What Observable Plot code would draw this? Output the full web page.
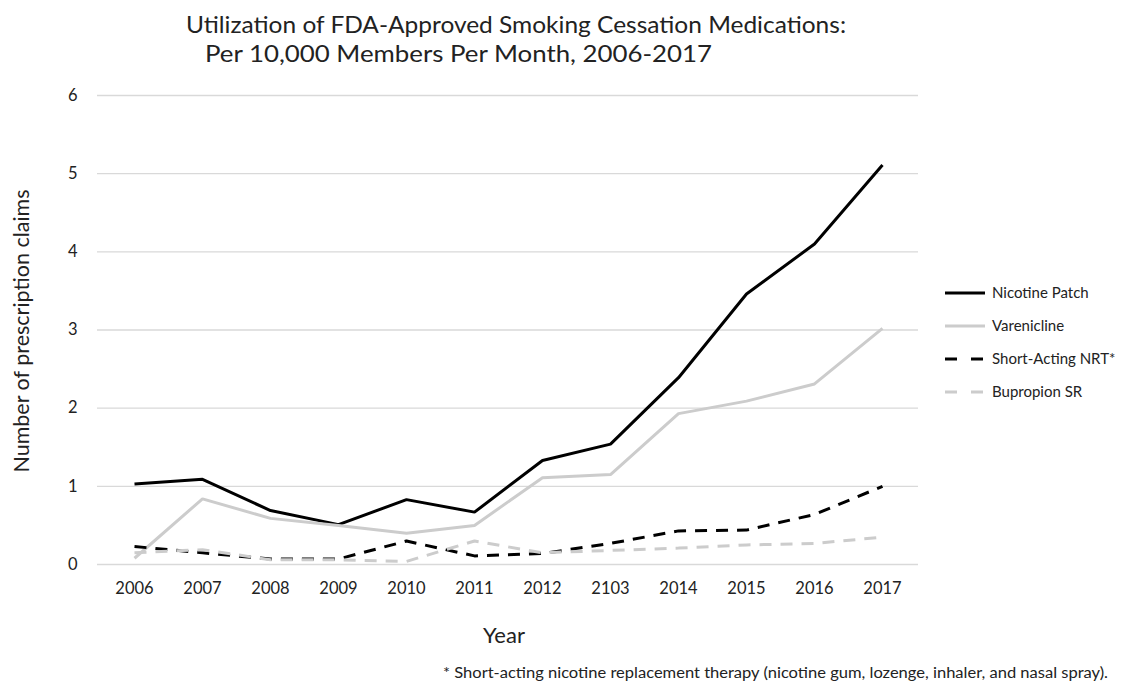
<!DOCTYPE html>
<html>
<head>
<meta charset="utf-8">
<script src="https://cdn.jsdelivr.net/npm/d3@7"></script>
<script src="https://cdn.jsdelivr.net/npm/@observablehq/plot@0.6"></script>
<style>
  html, body { margin: 0; padding: 0; background: #fff; }
  #chart svg { display: block; }
</style>
</head>
<body>
<div id="chart"></div>
<script>
const years = ["2006","2007","2008","2009","2010","2011","2012","2103","2014","2015","2016","2017"];
const nicotinePatch   = [1.03, 1.09, 0.69, 0.51, 0.83, 0.67, 1.33, 1.54, 2.39, 3.46, 4.10, 5.11];
const varenicline     = [0.08, 0.84, 0.59, 0.50, 0.40, 0.50, 1.11, 1.15, 1.93, 2.09, 2.31, 3.02];
const shortActingNRT  = [0.23, 0.15, 0.07, 0.07, 0.30, 0.11, 0.14, 0.27, 0.43, 0.44, 0.64, 1.00];
const bupropionSR     = [0.15, 0.19, 0.06, 0.06, 0.04, 0.30, 0.15, 0.18, 0.21, 0.25, 0.27, 0.35];
const yTicks = [0, 1, 2, 3, 4, 5, 6];

const seriesNames = ["Nicotine Patch", "Varenicline", "Short-Acting NRT*", "Bupropion SR"];
const seriesValues = [nicotinePatch, varenicline, shortActingNRT, bupropionSR];
const seriesStyle = [
  {stroke: "#000000", dash: null},
  {stroke: "#cccccc", dash: null},
  {stroke: "#000000", dash: "12,9"},
  {stroke: "#cccccc", dash: "12,9"}
];

const rows = seriesNames.map((name, i) => years.map((yr, j) => ({series: name, year: yr, value: seriesValues[i][j]})));

const W = 1142, H = 681;
const font = "Lato, 'Open Sans', sans-serif";

const plot = Plot.plot({
  width: W,
  height: H,
  marginLeft: 97,
  marginRight: 224,
  marginTop: 95,
  marginBottom: 117,
  style: {fontFamily: font, fontSize: "16px", color: "#222", background: "#fff"},
  x: {type: "point", domain: years, padding: 0.5, label: null},
  y: {domain: [0, 6], label: null},
  marks: [
    Plot.gridY(yTicks, {stroke: "#d9d9d9", strokeOpacity: 1, strokeWidth: 1.3}),
    Plot.axisY(yTicks, {tickSize: 0, tickPadding: 20, fontSize: 16.5, label: null, tickFormat: d => String(d)}),
    Plot.axisX({tickSize: 0, tickPadding: 18, fontSize: 16.5, label: null}),
    ...rows.map((data, i) => Plot.line(data, {
      x: "year", y: "value",
      stroke: seriesStyle[i].stroke,
      strokeWidth: 3,
      strokeDasharray: seriesStyle[i].dash,
      strokeLinejoin: "miter",
      strokeLinecap: "butt"
    }))
  ]
});

document.getElementById("chart").appendChild(plot);

const svg = d3.select(plot);
const txt = (x, y, s, size, anchor = "start", extra = {}) => {
  const t = svg.append("text")
    .attr("x", x).attr("y", y)
    .attr("font-family", font)
    .attr("font-size", size)
    .attr("fill", "#222")
    .attr("text-anchor", anchor)
    .text(s);
  for (const k in extra) t.attr(k, extra[k]);
  return t;
};

// Title
txt(186, 33, "Utilization of FDA-Approved Smoking Cessation Medications:", 24, "start", {textLength: 660, lengthAdjust: "spacingAndGlyphs"});
txt(205, 62, "Per 10,000 Members Per Month, 2006-2017", 24, "start", {textLength: 507, lengthAdjust: "spacingAndGlyphs"});

// Axis titles
txt(0, 0, "Number of prescription claims", 21.5, "middle", {transform: "translate(29,331) rotate(-90)"});
txt(504, 643, "Year", 22, "middle");

// Legend
const legendY = [293, 326, 359, 392];
seriesNames.forEach((name, i) => {
  svg.append("line")
    .attr("x1", 945).attr("x2", 985)
    .attr("y1", legendY[i]).attr("y2", legendY[i])
    .attr("stroke", seriesStyle[i].stroke)
    .attr("stroke-width", 3)
    .attr("stroke-dasharray", seriesStyle[i].dash ? "12,14" : null);
  txt(992, legendY[i] + 5, name, 15, "start");
});

// Footnote
txt(443, 678, "* Short-acting nicotine replacement therapy (nicotine gum, lozenge, inhaler, and nasal spray).", 15.5, "start", {textLength: 665, lengthAdjust: "spacingAndGlyphs"});
</script>
</body>
</html>
